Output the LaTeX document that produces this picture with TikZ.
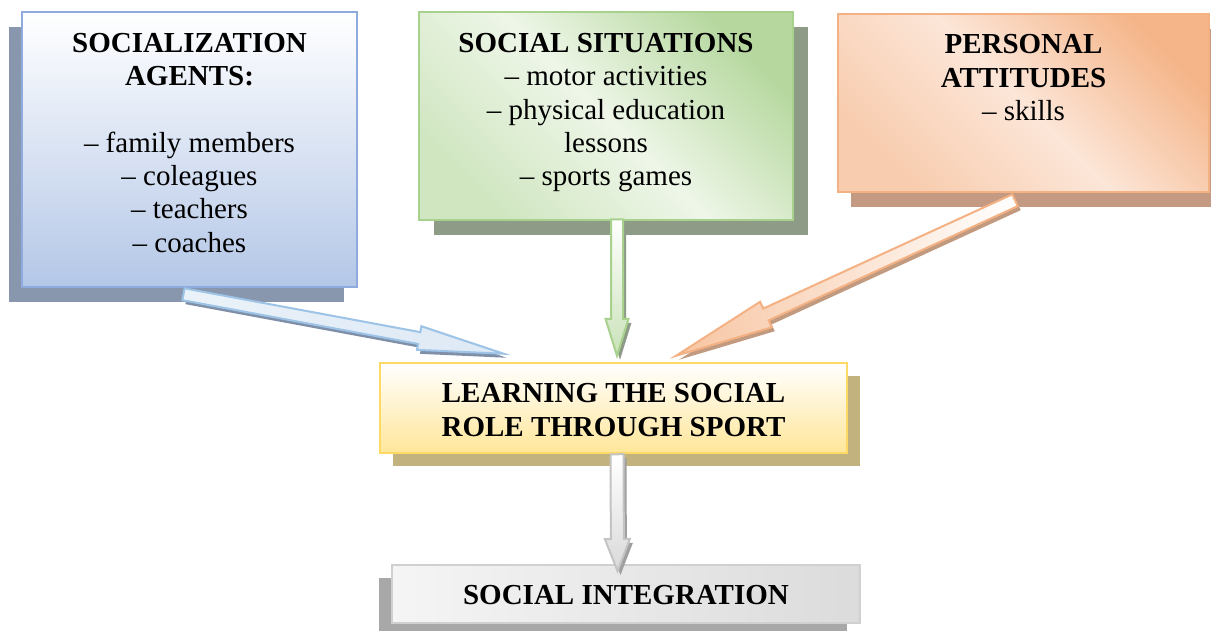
\documentclass[tikz,border=0pt]{standalone}
\usepackage{fontspec}
\setmainfont{Liberation Serif}
\usetikzlibrary{calc,shadows}
\definecolor{agBot}{HTML}{B4C7E7}
\definecolor{agBorder}{HTML}{8FAADC}
\definecolor{agShadow}{HTML}{8896AE}
\definecolor{sitGreen}{HTML}{A9D18E}
\definecolor{sitLight}{HTML}{EEF6E8}
\definecolor{sitShadow}{HTML}{8E9C87}
\definecolor{attOrange}{HTML}{F4B183}
\definecolor{attLight}{HTML}{FCE6D8}
\definecolor{attShadow}{HTML}{C49A82}
\definecolor{lrnBot}{HTML}{FFE699}
\definecolor{lrnBorder}{HTML}{FFD966}
\definecolor{lrnShadow}{HTML}{C2B27E}
\definecolor{intBorder}{HTML}{D0D0D0}
\definecolor{intShadow}{HTML}{A8A8A8}
\definecolor{arBlueFill}{HTML}{DDE9F5}
\definecolor{arBlueDraw}{HTML}{9DC3E6}
\definecolor{arBlueSh}{HTML}{7F8FA8}
\definecolor{arGreenFill}{HTML}{C9E2B8}
\definecolor{arGreenSh}{HTML}{8E9A88}
\definecolor{arOrFill}{HTML}{F7C5A2}
\definecolor{arOrSh}{HTML}{C19A80}
\definecolor{arGrayDraw}{HTML}{C4C4C4}
\definecolor{arGrayFill}{HTML}{D9D9D9}
\definecolor{arGraySh}{HTML}{A0A0A0}
\tikzset{
  box/.style={rectangle, line width=2.5pt, inner sep=0pt},
  txt/.style={align=center, font=\fontsize{29}{33.3}\selectfont, text=black, inner sep=0pt},
}
% #1 start, #2 tip, #3 shaft half width, #4 head half width, #5 head length, #6 style
\newcommand{\blockarrow}[6]{%
  \coordinate (bah) at ($(#2)!#5!(#1)$);
  \path[#6] ($(#1)!#3!90:(#2)$) -- ($(bah)!#3!90:(#2)$) -- ($(bah)!#4!90:(#2)$) -- (#2)
    -- ($(bah)!#4!-90:(#2)$) -- ($(bah)!#3!-90:(#2)$) -- ($(#1)!#3!-90:(#2)$) -- cycle;
}
\begin{document}
\begin{tikzpicture}[x=1pt,y=-1pt]
\useasboundingbox[fill=white] (0,0) rectangle (1211,630);

% boxes
\node[box, draw=agBorder, top color=white, bottom color=agBot,
  minimum width=335, minimum height=275,
  general shadow={fill=agShadow, shadow xshift=-13pt, shadow yshift=-15pt}] (agents) at (189.5,149.5) {};
\node[box, draw=sitGreen, top color=sitGreen!85!white, bottom color=sitGreen!55!white, middle color=sitLight, shading angle=-45,
  minimum width=374, minimum height=208,
  general shadow={fill=sitShadow, shadow xshift=15pt, shadow yshift=-15pt}] (sit) at (606,116) {};
\node[box, draw=attOrange, top color=attOrange!95!white, bottom color=attOrange!65!white, middle color=attLight, shading angle=-45,
  minimum width=371, minimum height=178,
  general shadow={fill=attShadow, shadow xshift=13pt, shadow yshift=-15pt}] (att) at (1023.5,103) {};
\node[box, draw=lrnBorder, top color=white, bottom color=lrnBot,
  minimum width=467, minimum height=90,
  general shadow={fill=lrnShadow, shadow xshift=13pt, shadow yshift=-13pt}] (learning) at (613.5,408) {};
\node[box, draw=intBorder, line width=2pt, left color=gray!8, right color=gray!28,
  minimum width=468, minimum height=58,
  general shadow={fill=intShadow, shadow xshift=-13pt, shadow yshift=-13pt}] (integ) at (626,594) {};

% connector end points
\coordinate (bS) at ($(agents.south)+(-6,6)$);
\coordinate (bE) at ($(learning.north west)+(125,-8)$);
\coordinate (gS) at ($(sit.south)+(11,-2)$);
\coordinate (gE) at ($(learning.north)+(3.5,-6)$);
\coordinate (oS) at ($(att.south)+(-8.5,7)$);
\coordinate (oE) at ($(learning.north)+(62.5,-6)$);
\coordinate (yS) at ($(learning.south)+(3.5,0)$);
\coordinate (yE) at ($(integ.north)+(-8.5,7)$);

% arrow shadows
\begin{scope}[transform canvas={shift={(3pt,-4pt)}}]
  \blockarrow{bS}{bE}{6pt}{12pt}{86pt}{fill=arBlueSh}
  \blockarrow{gS}{gE}{6pt}{11.5pt}{37pt}{fill=arGreenSh}
  \blockarrow{oS}{oE}{6.5pt}{14pt}{99pt}{fill=arOrSh}
  \blockarrow{yS}{yE}{6.5pt}{12.5pt}{32pt}{fill=arGraySh}
\end{scope}
% arrows
\blockarrow{bS}{bE}{6pt}{12pt}{86pt}{draw=arBlueDraw, line width=2pt, left color=arBlueFill!60!white, right color=arBlueFill}
\blockarrow{gS}{gE}{6pt}{11.5pt}{37pt}{draw=sitGreen, line width=2pt, top color=white, bottom color=arGreenFill}
\blockarrow{oS}{oE}{6.5pt}{14pt}{99pt}{draw=attOrange, line width=2pt, left color=arOrFill, right color=white}
\blockarrow{yS}{yE}{6.5pt}{12.5pt}{32pt}{draw=arGrayDraw, line width=2pt, top color=white, bottom color=arGrayFill}

% texts
\node[txt] (agentsT) at ($(agents.north)+(0,132)$) {\textbf{SOCIALIZATION}\\\textbf{AGENTS:}\\[33.3pt]– family members\\– coleagues\\– teachers\\– coaches};
\node[txt] (sitT) at ($(sit.north)+(0,102)$) {\textbf{SOCIAL SITUATIONS}\\– motor activities\\– physical education\\lessons\\– sports games};
\node[txt] (attT) at ($(att.north)+(0,65)$) {\textbf{PERSONAL}\\\textbf{ATTITUDES}\\– skills};
\node[txt, font=\fontsize{29}{33.3}\selectfont\bfseries] (learningT) at ($(learning.center)+(0,2)$) {LEARNING THE SOCIAL\\ROLE THROUGH SPORT};
\node[txt, font=\fontsize{29}{33.3}\selectfont\bfseries] (integT) at ($(integ.center)+(0,1)$) {SOCIAL INTEGRATION};
\end{tikzpicture}
\end{document}
